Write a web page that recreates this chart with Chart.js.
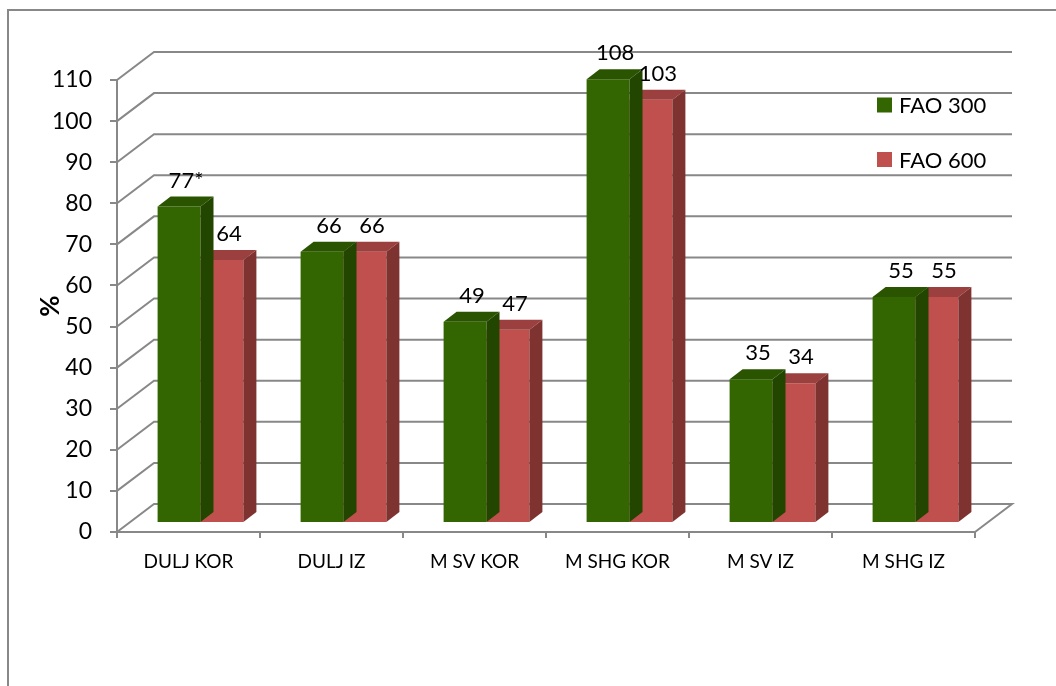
<!DOCTYPE html>
<html>
<head>
<meta charset="utf-8">
<script src="https://cdn.jsdelivr.net/npm/chart.js@4/dist/chart.umd.min.js"></script>
<style>
  body { margin: 0; background: #fff; overflow: hidden; }
  #frame { position: absolute; left: 7px; top: 9px; width: 1200px; height: 900px; border: 2px solid #888; }
  #canvas { position: absolute; left: 0; top: 0; }
</style>
</head>
<body>
<div id="frame"></div>
<canvas id="canvas" width="1056" height="686"></canvas>
<script>
// data
var categories = ['DULJ KOR', 'DULJ IZ', 'M SV KOR', 'M SHG KOR', 'M SV IZ', 'M SHG IZ'];
var fao300 = [77, 66, 49, 108, 35, 55];
var fao600 = [64, 66, 47, 103, 34, 55];
var fao300Notes = ['*', '', '', '', '', ''];
var fao600Notes = ['', '', '', '', '', ''];
var yTicks = [0, 10, 20, 30, 40, 50, 60, 70, 80, 90, 100, 110];

// look of the excel 3d columns
var lineGray = '#888888';
var wallDepth = { dx: 37, dy: -28 };
var barShift = { dx: 12, dy: -9 };
var barDepth = { dx: 13, dy: -10 };
var faces = [
    { front: '#336600', top: '#2a5400', side: '#224500' },
    { front: '#c0504d', top: '#9b403e', side: '#7e3331' }
];

Chart.defaults.font.family = 'Lato, "Open Sans", sans-serif';
Chart.defaults.color = '#000';

var excel3d = {
    id: 'excel3d',
    beforeDatasetsDraw: function(chart) {
        var ctx = chart.ctx, a = chart.chartArea, y = chart.scales.y;
        ctx.save();
        ctx.strokeStyle = lineGray;
        ctx.lineWidth = 2;
        yTicks.forEach(function(v) {
            var py = y.getPixelForValue(v);
            ctx.beginPath();
            ctx.moveTo(a.left, py);
            ctx.lineTo(a.left + wallDepth.dx, py + wallDepth.dy);
            ctx.lineTo(a.right + wallDepth.dx, py + wallDepth.dy);
            if (v == 0) ctx.lineTo(a.right, py);
            ctx.stroke();
        });
        ctx.restore();
    },
    beforeDatasetDraw: function(chart) {
        chart.ctx.save();
        chart.ctx.translate(barShift.dx, barShift.dy);
    },
    afterDatasetDraw: function(chart, args) {
        var ctx = chart.ctx;
        var f = faces[args.index];
        args.meta.data.forEach(function(bar) {
            var l = bar.x - bar.width / 2, r = bar.x + bar.width / 2;
            ctx.fillStyle = f.top;
            ctx.beginPath();
            ctx.moveTo(l, bar.y);
            ctx.lineTo(l + barDepth.dx, bar.y + barDepth.dy);
            ctx.lineTo(r + barDepth.dx, bar.y + barDepth.dy);
            ctx.lineTo(r, bar.y);
            ctx.closePath();
            ctx.fill();
            ctx.fillStyle = f.side;
            ctx.beginPath();
            ctx.moveTo(r, bar.y);
            ctx.lineTo(r + barDepth.dx, bar.y + barDepth.dy);
            ctx.lineTo(r + barDepth.dx, bar.base + barDepth.dy);
            ctx.lineTo(r, bar.base);
            ctx.closePath();
            ctx.fill();
        });
        ctx.restore();
    },
    afterDatasetsDraw: function(chart) {
        var ctx = chart.ctx;
        var notes = [fao300Notes, fao600Notes];
        ctx.save();
        ctx.font = '22px ' + Chart.defaults.font.family;
        ctx.fillStyle = '#000';
        ctx.textAlign = 'center';
        ctx.textBaseline = 'middle';
        chart.data.datasets.forEach(function(ds, i) {
            chart.getDatasetMeta(i).data.forEach(function(bar, j) {
                ctx.fillText(ds.data[j] + notes[i][j], bar.x + barShift.dx + 7, bar.y + barShift.dy - 26);
            });
        });
        // legend
        ctx.textAlign = 'left';
        chart.data.datasets.forEach(function(ds, i) {
            var cy = 105 + i * 54.5;
            ctx.fillStyle = ds.backgroundColor;
            ctx.fillRect(877, cy - 7.5, 15, 15);
            ctx.fillStyle = '#000';
            ctx.fillText(ds.label, 899, cy + 1);
        });
        ctx.restore();
    }
};

var ctx = document.getElementById('canvas').getContext('2d');
var myChart = new Chart(ctx, {
    type: 'bar',
    data: {
        labels: categories,
        datasets: [
            { label: 'FAO 300', data: fao300, backgroundColor: faces[0].front },
            { label: 'FAO 600', data: fao600, backgroundColor: faces[1].front }
        ]
    },
    options: {
        responsive: false,
        animation: false,
        layout: { padding: { left: 0, right: 81, top: 80, bottom: 0 } },
        datasets: { bar: { categoryPercentage: 0.6, barPercentage: 1.0 } },
        plugins: {
            legend: { display: false },
            tooltip: { enabled: false }
        },
        scales: {
            y: {
                min: 0,
                max: 110,
                afterFit: function(scale) { scale.width = 117; },
                afterBuildTicks: function(scale) {
                    scale.ticks = yTicks.map(function(v) { return { value: v }; });
                },
                ticks: { font: { size: 23 }, padding: 18 },
                grid: { drawOnChartArea: false, tickLength: 7, color: lineGray, lineWidth: 2 },
                border: { display: true, color: lineGray, width: 2 },
                title: { display: true, text: '%', font: { size: 26, weight: 'bold' }, padding: { top: 35 } }
            },
            x: {
                afterFit: function(scale) { scale.height = 154; },
                ticks: { font: { size: 19 }, padding: 12, maxRotation: 0 },
                grid: { drawOnChartArea: false, tickLength: 6, color: lineGray, lineWidth: 2 },
                border: { display: true, color: lineGray, width: 2 }
            }
        }
    },
    plugins: [excel3d]
});
</script>
</body>
</html>
